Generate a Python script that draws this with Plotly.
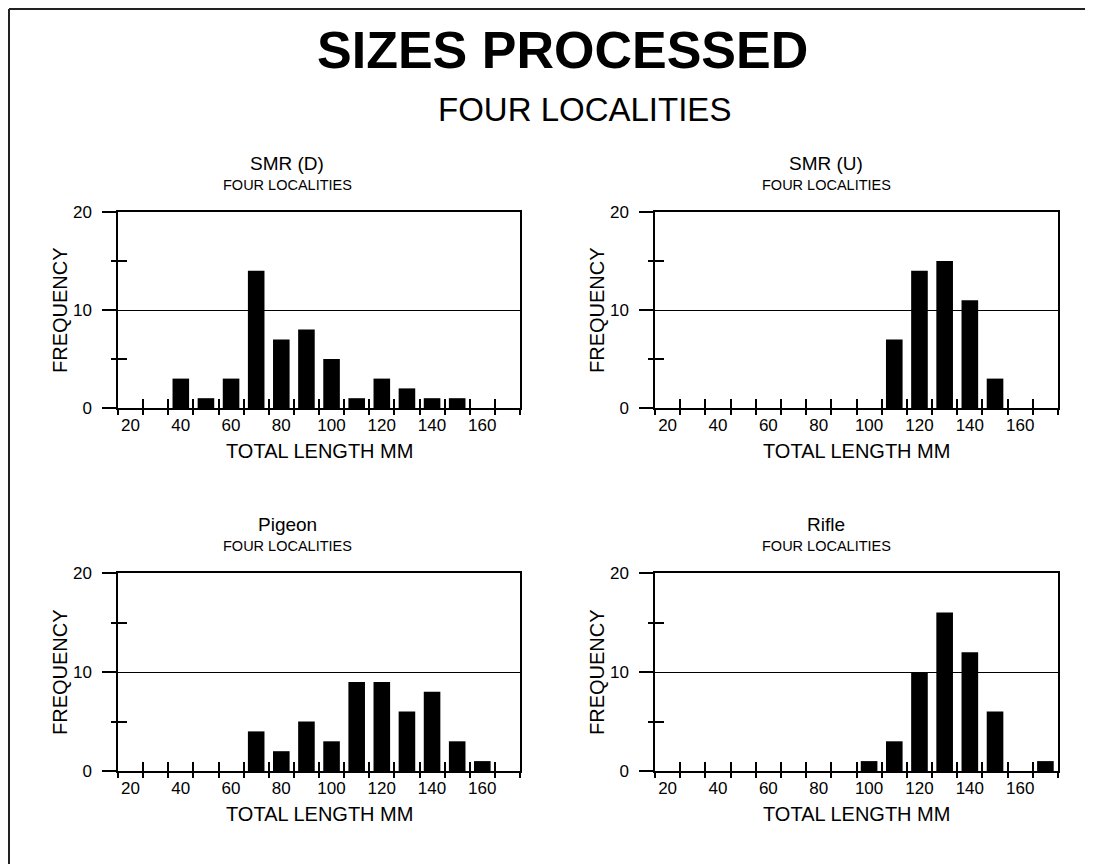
import plotly.graph_objects as go

# ---------------- data ----------------
lengths = [20, 30, 40, 50, 60, 70, 80, 90, 100, 110, 120, 130, 140, 150, 160, 170]
smr_d = [0, 0, 3, 1, 3, 14, 7, 8, 5, 1, 3, 2, 1, 1, 0, 0]
smr_u = [0, 0, 0, 0, 0, 0, 0, 0, 0, 7, 14, 15, 11, 3, 0, 0]
pigeon = [0, 0, 0, 0, 0, 4, 2, 5, 3, 9, 9, 6, 8, 3, 1, 0]
rifle = [0, 0, 0, 0, 0, 0, 0, 0, 1, 3, 10, 16, 12, 6, 0, 1]

panel_names = ["SMR (D)", "SMR (U)", "Pigeon", "Rifle"]
panel_values = [smr_d, smr_u, pigeon, rifle]

x_tick_labels = [20, 40, 60, 80, 100, 120, 140, 160]
bin_edges = [15, 25, 35, 45, 55, 65, 75, 85, 95, 105, 115, 125, 135, 145, 155, 165, 175]
y_tick_labels = [0, 10, 20]
y_minor_ticks = [5, 15]

title_text = "SIZES PROCESSED"
subtitle_text = "FOUR LOCALITIES"
panel_subtitle = "FOUR LOCALITIES"
x_title = "TOTAL LENGTH MM"
y_title = "FREQUENCY"

# ---------------- layout (page pixels; page body has an 8px margin) ----------------
PAGE_W, PAGE_H = 1093, 864
OFF = 8
W, H = PAGE_W - OFF, PAGE_H - OFF
FONT = "Liberation Sans, Arial, Helvetica, sans-serif"


def px(x):
    return (x - OFF) / W


def py(y):
    return 1 - (y - OFF) / H


cols = [(118, 520), (655, 1058)]
rows = [(212, 408), (573, 771)]
title_cx = [287, 826]

fig = go.Figure()
annotations = []
layout_axes = {}

for i in range(4):
    r, c = divmod(i, 2)
    x0, x1 = cols[c]
    yt, yb = rows[r]
    s = "" if i == 0 else str(i + 1)
    so = str(i + 5)

    fig.add_trace(go.Bar(
        x=lengths, y=panel_values[i], width=6.6,
        marker=dict(color="black", line=dict(width=0)),
        xaxis="x" + s, yaxis="y" + s, showlegend=False, hoverinfo="skip"))
    fig.add_trace(go.Scatter(
        x=[None], y=[None], xaxis="x" + so, yaxis="y" + so,
        showlegend=False, hoverinfo="skip"))

    layout_axes["xaxis" + s] = dict(
        domain=[px(x0), px(x1)], anchor="y" + s, range=[15, 175],
        tickmode="array", tickvals=x_tick_labels, ticks="",
        ticklabelstandoff=1,
        showline=True, mirror=True, linecolor="black", linewidth=2,
        showgrid=False, zeroline=False,
        tickfont=dict(family=FONT, size=17, color="black"),
        minor=dict(tickmode="array", tickvals=bin_edges, ticks="outside",
                   ticklen=5, tickwidth=1.5, tickcolor="black", showgrid=False),
        fixedrange=True)
    layout_axes["yaxis" + s] = dict(
        domain=[py(yb), py(yt)], anchor="x" + s, range=[0, 20],
        tickmode="array", tickvals=y_tick_labels, ticks="outside",
        ticklen=14, tickwidth=1.5, tickcolor="black",
        ticklabelstandoff=7,
        showline=True, mirror=True, linecolor="black", linewidth=1.5,
        showgrid=True, gridcolor="black", gridwidth=1.3, zeroline=False,
        tickfont=dict(family=FONT, size=17, color="black"),
        minor=dict(tickmode="array", tickvals=y_minor_ticks, ticks="outside",
                   ticklen=5, tickwidth=1.5, tickcolor="black", showgrid=False),
        fixedrange=True)
    layout_axes["xaxis" + so] = dict(
        overlaying="x" + s, anchor="y" + so, range=[15, 175],
        tickmode="array", tickvals=bin_edges, ticks="inside", ticklen=9,
        tickwidth=1.5, tickcolor="black", showticklabels=False,
        showline=False, showgrid=False, zeroline=False, fixedrange=True)
    layout_axes["yaxis" + so] = dict(
        overlaying="y" + s, anchor="x" + so, range=[0, 20],
        tickmode="array", tickvals=y_minor_ticks, ticks="inside", ticklen=9,
        tickwidth=1.5, tickcolor="black", showticklabels=False,
        showline=False, showgrid=False, zeroline=False, fixedrange=True)

    # panel titles
    annotations.append(dict(text=panel_names[i], x=px(title_cx[c]), y=py(yt - 49),
                            xref="paper", yref="paper", showarrow=False,
                            xanchor="center", yanchor="middle",
                            font=dict(family=FONT, size=19, color="black")))
    annotations.append(dict(text=panel_subtitle, x=px(title_cx[c]), y=py(yt - 27),
                            xref="paper", yref="paper", showarrow=False,
                            xanchor="center", yanchor="middle",
                            font=dict(family=FONT, size=14.5, color="black")))
    # axis titles
    annotations.append(dict(text=x_title, x=px((x0 + x1) / 2), y=py(yb + 43),
                            xref="paper", yref="paper", showarrow=False,
                            xanchor="center", yanchor="middle",
                            font=dict(family=FONT, size=20, color="black")))
    annotations.append(dict(text=y_title, x=px(x0 - 58), y=py((yt + yb) / 2),
                            xref="paper", yref="paper", showarrow=False,
                            xanchor="center", yanchor="middle", textangle=-90,
                            font=dict(family=FONT, size=20, color="black")))

annotations.append(dict(text="<b>" + title_text + "</b>", x=px(562), y=py(50),
                        xref="paper", yref="paper", showarrow=False,
                        xanchor="center", yanchor="middle",
                        font=dict(family=FONT, size=52, color="black")))
annotations.append(dict(text=subtitle_text, x=px(584), y=py(110),
                        xref="paper", yref="paper", showarrow=False,
                        xanchor="center", yanchor="middle",
                        font=dict(family=FONT, size=33, color="black")))

shapes = [
    dict(type="line", xref="paper", yref="paper", x0=px(9), x1=1, y0=py(9), y1=py(9),
         line=dict(color="#222", width=2)),
    dict(type="line", xref="paper", yref="paper", x0=px(9), x1=px(9), y0=py(9), y1=0,
         line=dict(color="#222", width=2)),
]

fig.update_layout(
    width=W, height=H,
    margin=dict(l=0, r=0, t=0, b=0, autoexpand=False),
    paper_bgcolor="white", plot_bgcolor="white",
    annotations=annotations, shapes=shapes,
    font=dict(family=FONT, color="black"),
    **layout_axes)

fig.write_html("out.html")
